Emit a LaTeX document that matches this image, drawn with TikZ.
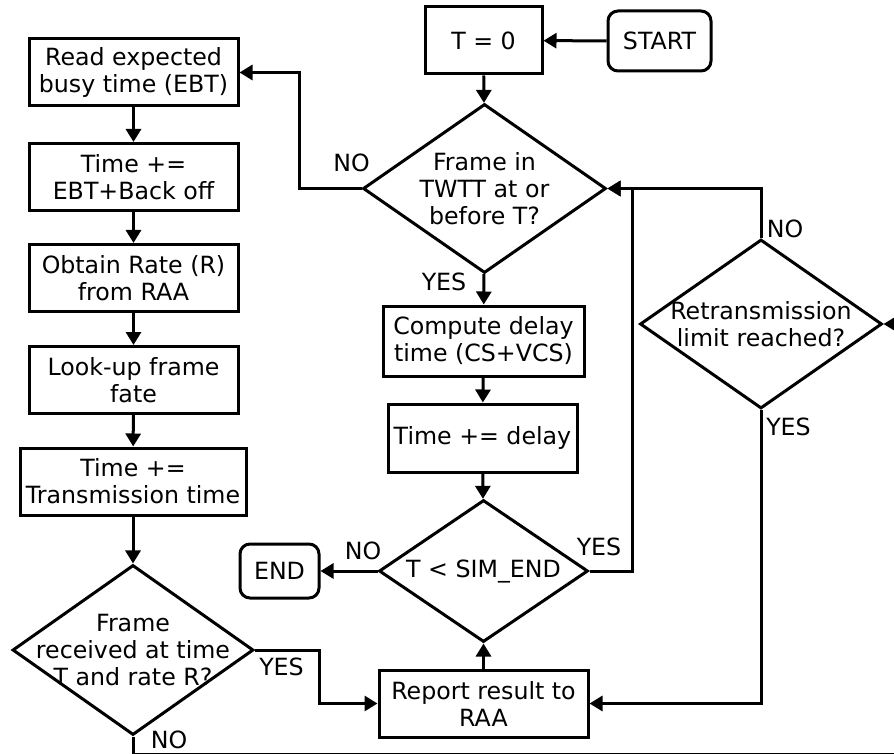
\documentclass[tikz,border=0pt]{standalone}
\usepackage{fontspec}
\setmainfont{DejaVu Sans}
\usetikzlibrary{shapes.geometric,arrows.meta}
\begin{document}
\begin{tikzpicture}[x=1pt,y=-1pt,
  every node/.style={font=\fontsize{23.7}{27}\selectfont},
  box/.style={draw,line width=3pt,inner sep=0pt,align=center},
  term/.style={box,rounded corners=10pt},
  dia/.style={draw,line width=3pt,diamond,inner sep=0pt},
  lab/.style={inner sep=0pt},
  flow/.style={line width=3pt,-{Triangle[length=13pt,width=15pt]}}]
\useasboundingbox (0,0) rectangle (894,754);
\clip (0,0) rectangle (894,754);

% left column
\node[box,minimum width=209pt,minimum height=67pt] (ebt) at (133.5,72.5) {Read expected\\busy time (EBT)};
\node[box,minimum width=209pt,minimum height=67pt] (bo) at (133.5,177) {Time +=\\EBT+Back off};
\node[box,minimum width=209pt,minimum height=67pt] (rate) at (133.5,278) {Obtain Rate (R)\\from RAA};
\node[box,minimum width=209pt,minimum height=67pt] (fate) at (133.5,380) {Look-up frame\\fate};
\node[box,minimum width=226pt,minimum height=67pt] (tx) at (133,481.5) {Time +=\\Transmission time};
\node[dia,minimum width=241pt,minimum height=170pt,
  label={[align=center]center:{Frame\\received at time\\T and rate R?}}] (rx) at (133,650) {};

% centre column
\node[box,minimum width=117pt,minimum height=67pt] (t0) at (483.5,40.5) {T = 0};
\node[term,minimum width=103pt,minimum height=60pt] (start) at (659.5,41) {START};
\node[dia,minimum width=243pt,minimum height=169pt,
  label={[align=center]center:{Frame in\\TWTT at or\\before T?}}] (twtt) at (484.5,188.5) {};
\node[box,minimum width=201pt,minimum height=70pt] (cs) at (483.5,341) {Compute delay\\time (CS+VCS)};
\node[box,minimum width=189pt,minimum height=68pt] (dl) at (482.5,438) {Time += delay};
\node[dia,minimum width=209pt,minimum height=142pt,
  label={center:{T < SIM\_END}}] (sim) at (483.5,571) {};
\node[term,minimum width=79pt,minimum height=54pt] (end) at (279.5,571) {END};
\node[box,minimum width=209pt,minimum height=67pt] (rep) at (483.5,703.5) {Report result to\\RAA};

% right column
\node[dia,minimum width=242pt,minimum height=169pt,
  label={[align=center]center:{Retransmission\\limit reached?}}] (ret) at (761,324) {};

% branch labels
\node[lab] (noA) at (351.5,163) {NO};
\node[lab] (yesA) at (444,282) {YES};
\node[lab] (noB) at (785,229) {NO};
\node[lab] (yesB) at (788.5,427) {YES};
\node[lab] (yesC) at (599,547) {YES};
\node[lab] (noC) at (363,551) {NO};
\node[lab] (yesD) at (281.5,667) {YES};
\node[lab] (noD) at (169,740) {NO};

% connectors
\draw[flow] (ebt) -- (bo);
\draw[flow] (bo) -- (rate);
\draw[flow] (rate) -- (fate);
\draw[flow] (fate) -- (tx);
\draw[flow] (tx) -- (rx);
\draw[flow] (start) -- (t0);
\draw[flow] (t0) -- (twtt);
\draw[flow] (twtt.west) -- ++(-62,0) |- (ebt.east);
\draw[flow] (twtt) -- (cs);
\draw[flow] (cs) -- (dl);
\draw[flow] (dl) -- (sim);
\draw[flow] (sim.west) -- (end.east);
\draw[flow] (sim.east) -- ++(43,0) |- (twtt.east);
\draw[flow] (ret.north) |- (twtt.east);
\draw[flow] (ret.south) |- (rep.east);
\draw[flow] (rep) -- (sim);
\draw[flow] (rx.east) -- ++(64,0) |- (rep.west);
\draw[flow] (rx.south) -- ++(0,18) -- ++(790,0) |- (ret.east);
\end{tikzpicture}
\end{document}
